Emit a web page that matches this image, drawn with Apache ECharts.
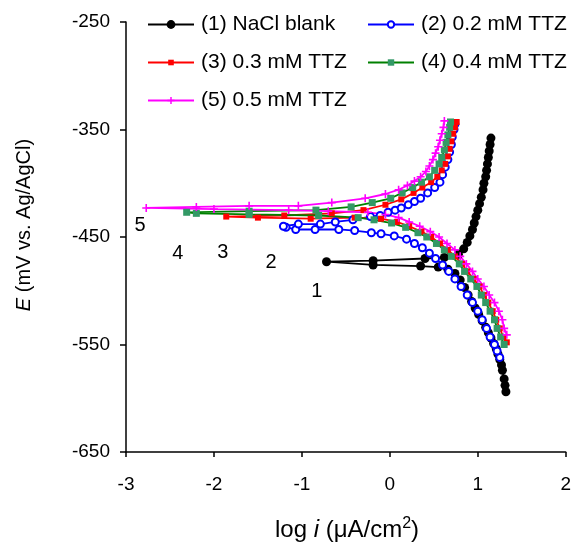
<!DOCTYPE html>
<html><head><meta charset="utf-8">
<script src="https://cdn.jsdelivr.net/npm/echarts@6/dist/echarts.min.js"></script>
<style>html,body{margin:0;padding:0;background:#fff}#c{width:574px;height:545px}</style>
</head><body><div id="c"></div>
<script>
// Tick labels
const xTicks = [-3, -2, -1, 0, 1, 2];
const yTicks = [-650, -550, -450, -350, -250];

// Series names
const seriesNames = ['(1) NaCl blank', '(2) 0.2 mM TTZ', '(3) 0.3 mM TTZ', '(4) 0.4 mM TTZ', '(5) 0.5 mM TTZ'];

// (1) NaCl blank: [log i, E]
const blank = [
  [1.32,-594],[1.31,-588],[1.30,-582],[1.28,-574],[1.27,-569],[1.25,-564],[1.23,-559],[1.21,-554],[1.18,-549],[1.15,-544],
  [1.12,-539],[1.09,-534],[1.05,-528],[1.01,-522],[0.97,-516],[0.93,-510],[0.89,-504],[0.85,-497],[0.80,-490],[0.74,-484],
  [0.66,-480],[0.55,-478],[0.35,-477],[-0.19,-476],[-0.72,-473],
  [-0.19,-472],[0.40,-470],[0.62,-469],[0.78,-466],[0.84,-461],[0.88,-455],[0.91,-449],[0.94,-443],[0.96,-437],[0.98,-431],
  [1.00,-425],[1.02,-419],[1.04,-413],[1.06,-406],[1.07,-400],[1.09,-394],[1.10,-388],[1.11,-382],[1.12,-376],[1.13,-370],
  [1.14,-364],[1.15,-358]
];
// (2) 0.2 mM TTZ
const ttz02 = [
  [1.25,-562],[1.22,-556],[1.19,-550],[1.14,-543],[1.10,-535],[1.05,-527],[1.00,-519],[0.94,-511],[0.88,-504],[0.81,-496],
  [0.74,-489],[0.67,-482],[0.60,-476],[0.52,-470],[0.45,-465],[0.37,-460],[0.28,-456],[0.19,-452],[0.05,-449],[-0.10,-447],
  [-0.21,-446],[-0.40,-444],[-0.58,-443],[-0.85,-443],[-1.07,-443],[-1.18,-441],[-1.21,-440],
  [-1.04,-438],[-0.79,-438],[-0.62,-436],[-0.42,-434],[-0.22,-431],[-0.11,-430],[-0.02,-427],[0.06,-425],[0.13,-423],
  [0.21,-420],[0.28,-417],[0.35,-414],[0.43,-409],[0.51,-404],[0.57,-399],[0.60,-392],[0.63,-385],[0.66,-378],[0.68,-371],
  [0.70,-364],[0.71,-357],[0.73,-350],[0.74,-345]
];
// (3) 0.3 mM TTZ
const ttz03 = [
  [1.33,-548],[1.29,-543],[1.25,-535],[1.21,-527],[1.17,-519],[1.12,-511],[1.07,-504],[1.02,-496],[0.95,-489],[0.88,-482],
  [0.82,-475],[0.74,-468],[0.66,-462],[0.57,-456],[0.47,-450],[0.36,-445],[0.22,-440],[0.08,-436],[-0.10,-433],[-0.40,-432],
  [-0.90,-433],[-1.50,-432],[-1.86,-431],
  [-1.20,-430],[-0.66,-428],[-0.30,-425],[-0.05,-420],[0.13,-415],[0.27,-409],[0.37,-404],[0.47,-399],[0.54,-394],[0.59,-388],
  [0.63,-382],[0.66,-375],[0.68,-368],[0.70,-361],[0.72,-354],[0.74,-348],[0.76,-343]
];
// (4) 0.4 mM TTZ
const ttz04 = [
  [1.30,-550],[1.26,-543],[1.22,-535],[1.19,-527],[1.14,-519],[1.09,-511],[1.04,-504],[0.99,-496],[0.92,-489],[0.85,-482],
  [0.79,-475],[0.70,-468],[0.62,-462],[0.53,-456],[0.42,-450],[0.32,-446],[0.18,-441],[0.02,-437],[-0.18,-434],[-0.36,-432],
  [-0.81,-430],[-1.60,-429],[-2.20,-428],[-2.31,-427],
  [-1.60,-426],[-0.84,-425],[-0.44,-422],[-0.20,-418],[0.01,-414],[0.14,-409],[0.26,-404],[0.36,-399],[0.45,-394],[0.51,-388],
  [0.56,-382],[0.59,-376],[0.62,-369],[0.64,-362],[0.66,-355],[0.68,-348],[0.69,-343]
];
// (5) 0.5 mM TTZ
const ttz05 = [
  [1.33,-541],[1.30,-535],[1.28,-527],[1.24,-519],[1.19,-511],[1.13,-504],[1.07,-496],[1.00,-489],[0.94,-482],[0.87,-475],
  [0.80,-468],[0.74,-462],[0.65,-456],[0.56,-450],[0.46,-445],[0.34,-440],[0.22,-436],[0.10,-432],[-0.05,-429],[-0.25,-427],
  [-0.70,-426],[-1.15,-425],[-2.00,-424],[-2.77,-423],
  [-2.20,-422],[-1.60,-421],[-1.04,-421],[-0.66,-418],[-0.28,-414],[-0.05,-410],[0.10,-406],[0.20,-402],[0.28,-398],[0.35,-394],
  [0.41,-389],[0.45,-384],[0.49,-378],[0.52,-372],[0.55,-366],[0.57,-360],[0.59,-354],[0.61,-348],[0.62,-342]
];
// Curve number annotations: [log i, E, text]
const annotations = [
  [-2.84,-439,'5'],[-2.41,-465,'4'],[-1.90,-464,'3'],[-1.35,-474,'2'],[-0.83,-501,'1']
];

const FONT = 'Liberation Sans, Arial, sans-serif';
const chart = echarts.init(document.getElementById('c'));

function lineSeries(name, data, color, symbol, size, extra) {
  return Object.assign({
    name: name, type: 'line', data: data, symbol: symbol, symbolSize: size,
    showAllSymbol: true, color: color,
    lineStyle: { color: color, width: 1.8 },
    itemStyle: { color: color },
    emphasis: { disabled: true }
  }, extra || {});
}
const plus = 'path://M0,4h10v2H0z M4,0h2v10H4z';

function legendAt(name, left, top, ih) {
  return {
    data: [name], left: left, top: top, orient: 'vertical',
    itemWidth: 46, itemHeight: ih, padding: 0,
    textStyle: { fontFamily: FONT, fontSize: 21, color: '#000', padding: [0, 0, 0, 2] },
    selectedMode: false
  };
}

chart.setOption({
  animation: false,
  backgroundColor: '#fff',
  grid: { left: 126, top: 22, width: 443, height: 430, containLabel: false },
  legend: [
    legendAt(seriesNames[0], 147, 14, 11),
    legendAt(seriesNames[1], 367, 14, 8),
    legendAt(seriesNames[2], 147, 52, 7),
    legendAt(seriesNames[3], 367, 52, 8),
    legendAt(seriesNames[4], 147, 90, 9)
  ],
  xAxis: {
    type: 'value', min: -3, max: 2,
    axisLine: { show: true, onZero: false, lineStyle: { color: '#000', width: 1.5 } },
    axisTick: { show: true, inside: false, length: 5, customValues: xTicks, lineStyle: { color: '#000', width: 1.5 } },
    axisLabel: { customValues: xTicks, margin: 23, fontFamily: FONT, fontSize: 19, color: '#000' },
    splitLine: { show: false }
  },
  yAxis: {
    type: 'value', min: -650, max: -250,
    axisLine: { show: true, onZero: false, lineStyle: { color: '#000', width: 1.5 } },
    axisTick: { show: true, inside: false, length: 6, customValues: yTicks, lineStyle: { color: '#000', width: 1.5 } },
    axisLabel: { customValues: yTicks, margin: 16, fontFamily: FONT, fontSize: 19, color: '#000' },
    splitLine: { show: false }
  },
  graphic: [
    {
      type: 'text', x: 24, y: 225, rotation: Math.PI / 2,
      style: {
        text: '{i|E} (mV vs. Ag/AgCl)', align: 'center', verticalAlign: 'middle',
        fontFamily: FONT, fontSize: 20, fill: '#000',
        rich: { i: { fontStyle: 'italic', fontFamily: FONT, fontSize: 20 } }
      }
    },
    {
      type: 'text', x: 347, y: 530,
      style: {
        text: '{n|log }{i|i}{n| (μA/cm}{s|2}{n|)}', align: 'center', verticalAlign: 'middle',
        fontFamily: FONT, fontSize: 24, fill: '#000',
        rich: {
          n: { fontFamily: FONT, fontSize: 24, lineHeight: 28 },
          i: { fontFamily: FONT, fontSize: 24, fontStyle: 'italic', lineHeight: 28 },
          s: { fontFamily: FONT, fontSize: 16, verticalAlign: 'top', lineHeight: 16 }
        }
      }
    }
  ],
  series: [
    lineSeries(seriesNames[0], blank, '#000000', 'circle', 9),
    lineSeries(seriesNames[1], ttz02, '#0000ff', 'emptyCircle', 7, { itemStyle: { color: '#0000ff', borderWidth: 1.8 } }),
    lineSeries(seriesNames[2], ttz03, '#ff0000', 'rect', 6),
    lineSeries(seriesNames[3], ttz04, '#008000', 'rect', 7, { itemStyle: { color: '#339966' }, lineStyle: { color: '#008000', width: 1.8 } }),
    lineSeries(seriesNames[4], ttz05, '#ff00ff', plus, 8),
    {
      name: 'labels', type: 'scatter', data: annotations, symbol: 'circle', symbolSize: 2,
      itemStyle: { color: '#ffffff', opacity: 1 }, silent: true, z: 10,
      emphasis: { disabled: true },
      label: { show: true, position: 'inside', formatter: p => p.value[2], fontFamily: FONT, fontSize: 20,
               color: '#000000', opacity: 1, textBorderWidth: 0 }
    }
  ]
});
</script></body></html>
